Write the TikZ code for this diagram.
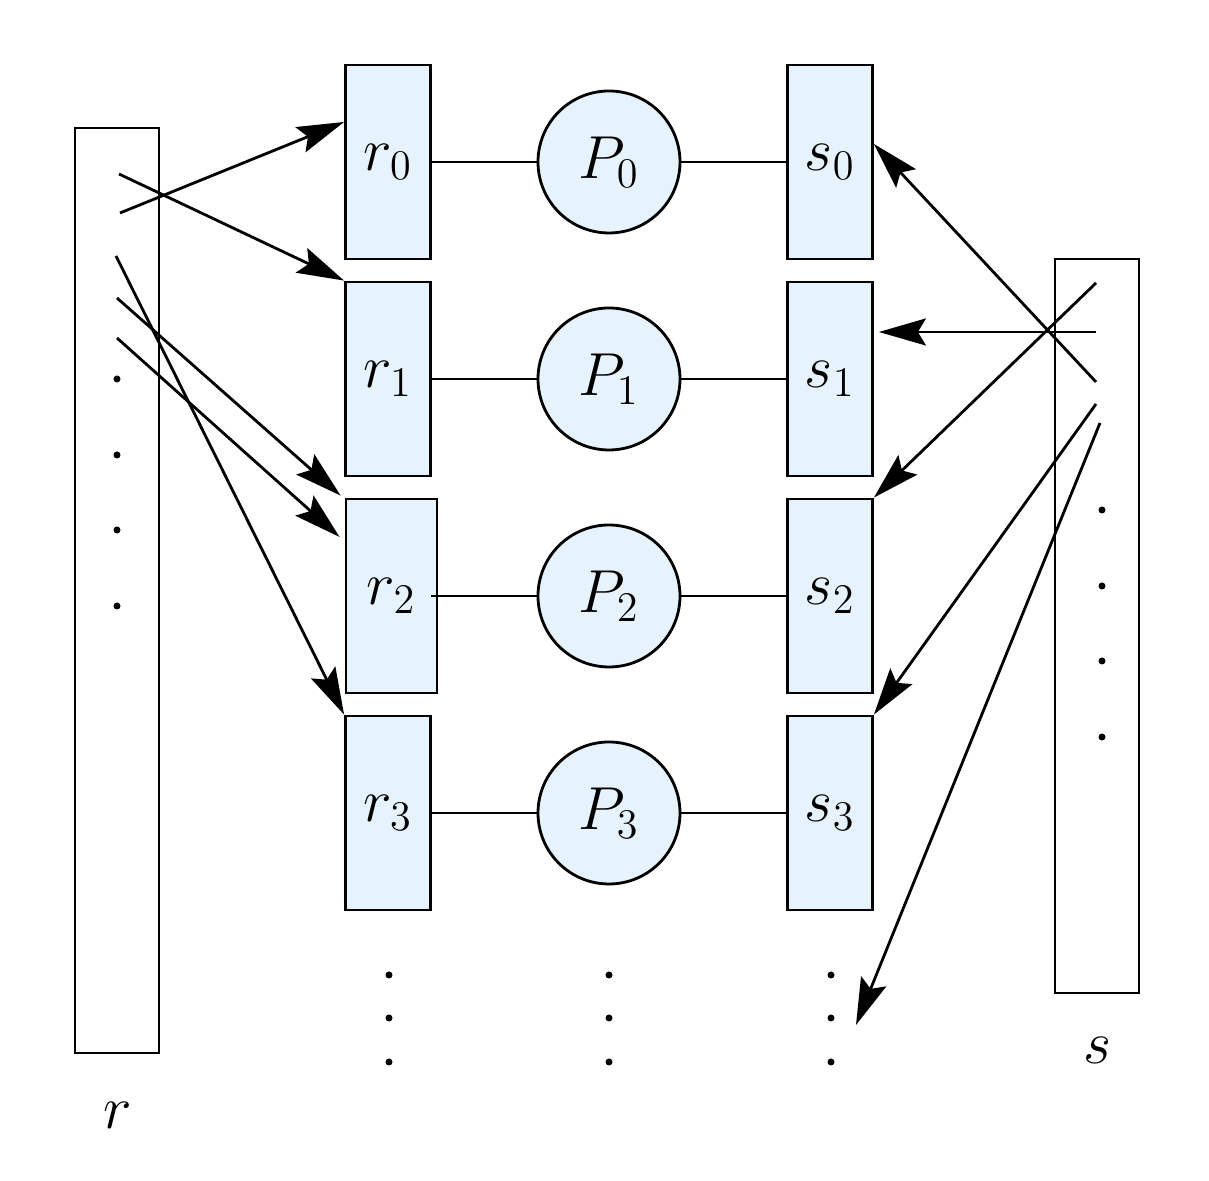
\documentclass[tikz,border=0pt]{standalone}
\usepackage{tikz}
\usetikzlibrary{arrows.meta,positioning,calc}
\definecolor{partfill}{RGB}{231,243,252}
\tikzset{
  relbox/.style={draw,line width=0.8pt,minimum width=0.84cm,inner sep=0pt},
  partbox/.style={draw,line width=0.8pt,fill=partfill,minimum height=1.94cm,
    inner sep=0pt,font=\fontsize{18}{22}\selectfont},
  procnode/.style={circle,draw,line width=0.8pt,fill=partfill,minimum size=1.42cm,
    inner sep=0pt,font=\fontsize{18}{22}\selectfont},
  linkline/.style={line width=0.8pt},
  partarrow/.style={-{Stealth[length=0.47cm,width=0.27cm,inset=0.08cm]},line width=0.8pt},
  rellabel/.style={font=\fontsize{18}{22}\selectfont}
}
\begin{document}
\begin{tikzpicture}
  \useasboundingbox (0,0) rectangle (12.09,11.81);
  % the two relations
  \node[relbox,minimum height=9.25cm] (rrel) at (1.17,5.905) {};
  \node[relbox,minimum height=7.34cm] (srel) at (10.97,5.55) {};
  \node[rellabel] (rname) at (1.18,0.66) {$r$};
  \node[rellabel] (sname) at (10.97,1.31) {$s$};
  % partitions and processors
  \foreach \i/\y/\rx/\rw/\lx in {0/10.19/3.88/0.85/0,1/8.02/3.88/0.85/0,
                                  2/5.85/3.915/0.91/-0.07,3/3.68/3.88/0.85/0} {
    \node[partbox,minimum width=\rw cm] (r\i) at (\rx,\y) {$r_\i$};
    \node[procnode] (p\i) at (6.09,\y) {$P_\i$};
    \node[partbox,minimum width=0.85cm] (s\i) at (8.30,\y) {$s_\i$};
    \draw[linkline] ([xshift=\lx cm]r\i.east) -- (p\i);
    \draw[linkline] (p\i) -- (s\i);
  }
  % dots
  \foreach \y in {8.02,7.26,6.51,5.75} \fill (1.17,\y) circle (0.035);
  \foreach \y in {6.71,5.95,5.20,4.44} \fill (11.02,\y) circle (0.035);
  \foreach \x in {3.89,6.09,8.31}
    \foreach \y in {2.06,1.63,1.19} \fill (\x,\y) circle (0.035);
  % tuples sent from r
  \coordinate (ra) at (1.19,10.07);
  \coordinate (rb) at (1.20,9.68);
  \coordinate (rc) at (1.16,9.25);
  \coordinate (rd) at (1.17,8.83);
  \coordinate (re) at (1.17,8.43);
  \draw[partarrow] (ra) -- (r1.north west);
  \draw[partarrow] (rb) -- ($(r0.west)+(0,0.40)$);
  \draw[partarrow] (rc) -- (r3.north west);
  \draw[partarrow] (rd) -- ($(r2.north west)+(-0.04,0.02)$);
  \draw[partarrow] (re) -- ($(r2.west)+(-0.05,0.59)$);
  % tuples sent from s
  \coordinate (sa) at (10.96,8.98);
  \coordinate (sb) at (10.96,8.49);
  \coordinate (sc) at (10.96,7.99);
  \coordinate (sd) at (10.96,7.77);
  \coordinate (se) at (11.00,7.58);
  \coordinate (send) at (8.56,1.56);
  \draw[partarrow] (sa) -- (s2.north east);
  \draw[partarrow] (sb) -- ($(s1.east)+(0.05,0.47)$);
  \draw[partarrow] (sc) -- ($(s0.east)+(0,0.18)$);
  \draw[partarrow] (sd) -- (s3.north east);
  \draw[partarrow] (se) -- (send);
\end{tikzpicture}
\end{document}
